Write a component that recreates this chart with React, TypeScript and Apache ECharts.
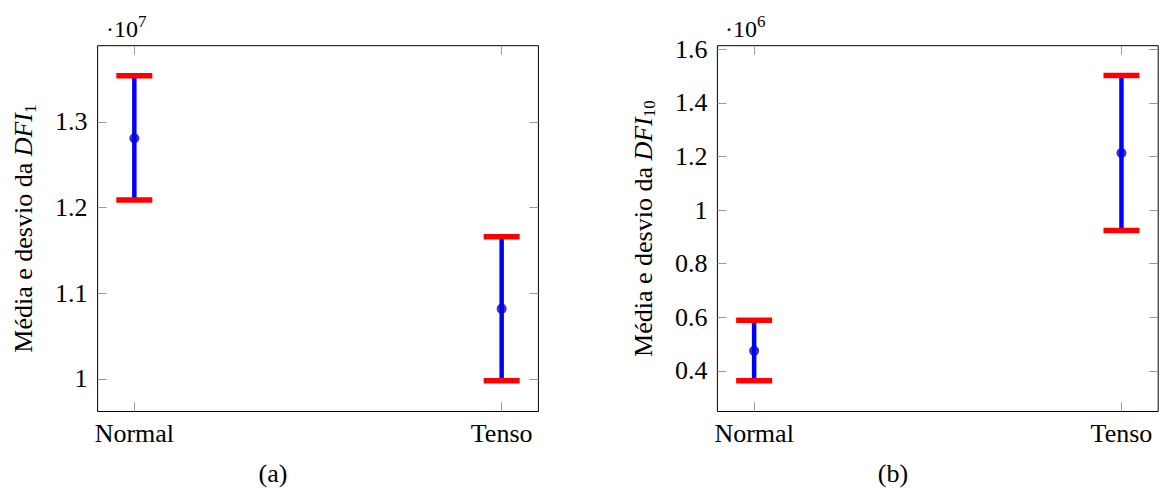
import React, { useEffect, useRef } from "react";
import * as echarts from "echarts";

// Categories
const categories = ["Normal", "Tenso"];
const catPos = [0, 1];

// (a) DFI_1, in units of 10^7
const dfi1Mean = [1.281, 1.082];
const dfi1Low = [1.209, 0.998];
const dfi1High = [1.354, 1.166];
const dfi1Ticks = [1.0, 1.1, 1.2, 1.3];

// (b) DFI_10, in units of 10^6
const dfi10Mean = [0.475, 1.213];
const dfi10Low = [0.363, 0.924];
const dfi10High = [0.589, 1.502];
const dfi10Ticks = [0.4, 0.6, 0.8, 1.0, 1.2, 1.4, 1.6];

const FONT = "'Liberation Serif', 'Times New Roman', serif";
const BLUE = "#0000ff";
const RED = "#ff0000";
const DOT = "#0000dd";
const TICK = "#9a9a9a";
const FS = 26;

const fmt = (v: number) => String(Math.round(v * 10) / 10);

function xAxes(grid: number) {
  const base = {
    type: "value",
    gridIndex: grid,
    min: -0.1,
    max: 1.1,
    splitLine: { show: false },
    axisLine: { show: false, onZero: false },
    axisTick: { show: true, inside: true, length: 9, customValues: catPos, lineStyle: { color: TICK, width: 1 } },
  };
  return [
    {
      ...base,
      position: "bottom",
      axisLabel: {
        show: true,
        customValues: catPos,
        margin: 9,
        fontSize: FS,
        color: "#000",
        fontFamily: FONT,
        formatter: (v: number) => categories[Math.round(v)] ?? "",
      },
    },
    { ...base, position: "top", axisLabel: { show: false } },
  ];
}

function yAxes(grid: number, min: number, max: number, ticks: number[], sub: string) {
  const base = {
    type: "value",
    gridIndex: grid,
    min,
    max,
    splitLine: { show: false },
    axisLine: { show: false, onZero: false },
    axisTick: { show: true, inside: true, length: 9, customValues: ticks, lineStyle: { color: TICK, width: 1 } },
  };
  return [
    {
      ...base,
      position: "left",
      name: `Média e desvio da {it|DFI}{sub|${sub}}`,
      nameLocation: "middle",
      nameGap: 59,
      nameTextStyle: {
        fontSize: FS,
        fontFamily: FONT,
        color: "#000",
        rich: {
          it: { fontStyle: "italic", fontSize: FS, fontFamily: FONT, color: "#000" },
          sub: { fontSize: 17, fontFamily: FONT, color: "#000", padding: [13, 0, 0, 0] },
        },
      },
      axisLabel: {
        show: true,
        customValues: ticks,
        margin: 10,
        fontSize: FS,
        color: "#000",
        fontFamily: FONT,
        formatter: (v: number) => fmt(v),
      },
    },
    { ...base, position: "right", axisLabel: { show: false } },
  ];
}

function errSeries(grid: number, low: number[], high: number[], mean: number[]) {
  const data = catPos.map((x, i) => [x, low[i], high[i]]);
  const meanData = catPos.map((x, i) => [x, mean[i]]);
  return [
    {
      type: "custom",
      xAxisIndex: grid * 2,
      yAxisIndex: grid * 2,
      encode: { x: 0, y: [1, 2] },
      data,
      renderItem: (params: any, api: any) => {
        const x = api.value(0);
        const pL = api.coord([x, api.value(1)]);
        const pH = api.coord([x, api.value(2)]);
        const hw = 18;
        return {
          type: "group",
          children: [
            { type: "line", shape: { x1: pL[0], y1: pL[1], x2: pH[0], y2: pH[1] }, style: { stroke: BLUE, lineWidth: 4.5 } },
            { type: "line", shape: { x1: pH[0] - hw, y1: pH[1], x2: pH[0] + hw, y2: pH[1] }, style: { stroke: RED, lineWidth: 5.5 } },
            { type: "line", shape: { x1: pL[0] - hw, y1: pL[1], x2: pL[0] + hw, y2: pL[1] }, style: { stroke: RED, lineWidth: 5.5 } },
          ],
        };
      },
      z: 2,
    },
    {
      type: "scatter",
      xAxisIndex: grid * 2,
      yAxisIndex: grid * 2,
      data: meanData,
      symbol: "circle",
      symbolSize: 10,
      itemStyle: { color: DOT },
      z: 3,
    },
  ];
}

export default function App() {
  const ref = useRef<HTMLDivElement>(null);
  useEffect(() => {
    if (!ref.current) return;
    const chart = echarts.init(ref.current, undefined, { renderer: "svg" });
    const expStyle = (e: string) => ({
      text: `·10{sup|${e}}`,
      fontSize: 24,
      fontFamily: FONT,
      fill: "#000",
      rich: { sup: { fontSize: 17, fontFamily: FONT, fill: "#000", padding: [0, 0, 14, 0] } },
    });
    chart.setOption({
      animation: false,
      backgroundColor: "#fff",
      textStyle: { fontFamily: FONT },
      grid: [
        { left: 97.6, top: 45.7, width: 440.8, height: 365.8, show: true, borderColor: "#000", borderWidth: 1, backgroundColor: "transparent" },
        { left: 717.4, top: 45.7, width: 440.8, height: 365.8, show: true, borderColor: "#000", borderWidth: 1, backgroundColor: "transparent" },
      ],
      xAxis: [...xAxes(0), ...xAxes(1)],
      yAxis: [
        ...yAxes(0, 0.962, 1.389, dfi1Ticks, "1"),
        ...yAxes(1, 0.2485, 1.6134, dfi10Ticks, "10"),
      ],
      series: [...errSeries(0, dfi1Low, dfi1High, dfi1Mean), ...errSeries(1, dfi10Low, dfi10High, dfi10Mean)],
      graphic: [
        { type: "text", left: 106, top: 13, style: expStyle("7") },
        { type: "text", left: 725, top: 13, style: expStyle("6") },
        {
          type: "text",
          x: 273,
          y: 473,
          style: { text: "(a)", fontSize: FS, fontFamily: FONT, fill: "#000", align: "center", verticalAlign: "middle" },
        },
        {
          type: "text",
          x: 893,
          y: 473,
          style: { text: "(b)", fontSize: FS, fontFamily: FONT, fill: "#000", align: "center", verticalAlign: "middle" },
        },
      ],
    });
    return () => chart.dispose();
  }, []);
  return <div ref={ref} style={{ position: "fixed", left: 0, top: 0, width: 1159, height: 488 }} />;
}
